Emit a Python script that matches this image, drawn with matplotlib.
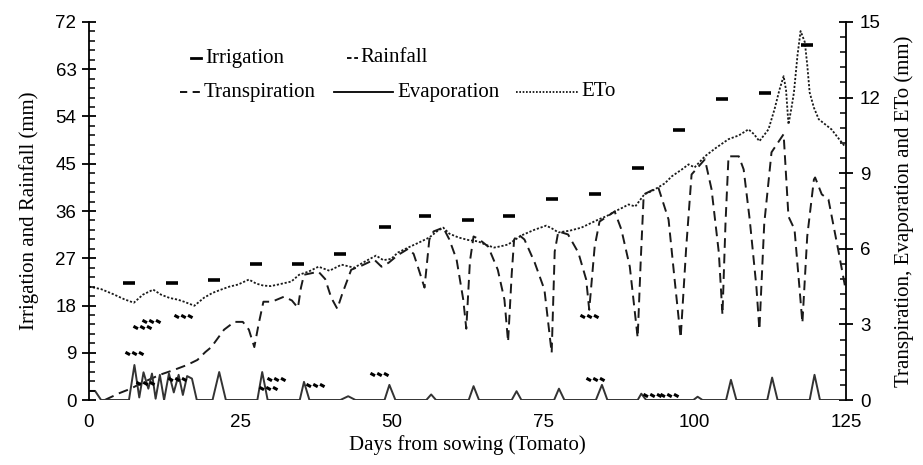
import matplotlib
matplotlib.use("Agg")
import matplotlib.pyplot as plt
from matplotlib.path import Path
from matplotlib.ticker import MultipleLocator

# ---- data -------------------------------------------------------------
irr_day = [6.6, 13.7, 20.7, 27.6, 34.5, 41.4, 48.8, 55.4, 62.5, 69.4,
           76.5, 83.6, 90.7, 97.4, 104.6, 111.6, 118.5]
irr_mm = [22.2, 22.2, 22.9, 26.0, 26.0, 27.9, 33.0, 35.0, 34.2, 35.0,
          38.2, 39.2, 44.1, 51.4, 57.3, 58.4, 67.6]

rain_day = [7.5, 8.8, 10.3, 15.6, 9.3, 14.5, 29.6, 30.9, 37.4, 47.9,
            82.6, 83.6, 93.0, 95.7]
rain_mm = [9.0, 14.0, 15.0, 16.0, 3.2, 4.0, 2.3, 4.0, 2.9, 5.0,
           16.0, 4.0, 1.0, 1.0]

eto_day = [0, 2, 4, 5.8, 7.4, 8.9, 10.6, 11.9, 13.3, 14.7, 15.7, 17.4,
           19.0, 20.4, 21.8, 23.2, 24.6, 26.4, 27.6, 28.8, 30.0, 31.2,
           33.4, 34.7, 36.3, 37.9, 39.7, 41.7, 43.8, 45.6, 47.4, 48.6,
           49.9, 51.0, 52.7, 54.5, 56.2, 57.5, 58.5, 59.5, 61.0, 62.6,
           64.3, 65.6, 66.9, 68.0, 69.2, 70.3, 71.4, 73.5, 75.5, 76.5,
           77.5, 79.4, 81.3, 82.7, 84.1, 85.5, 86.8, 88.0, 89.1, 90.2,
           91.7, 93.0, 94.0, 95.1, 96.2, 97.9, 99.0, 100.0, 101.7, 103.5,
           105.6, 107.3, 108.9, 109.8, 110.7, 112.2, 113.2, 114.0, 114.7,
           115.1, 115.5, 116.0, 116.4, 117.0, 117.5, 118.2, 118.6, 119.0,
           119.7, 120.5, 121.5, 122.6, 123.7, 124.8]
eto_mm = [4.5, 4.4, 4.2, 4.0, 3.86, 4.18, 4.38, 4.18, 4.05, 3.98, 3.9, 3.74,
          4.06, 4.25, 4.38, 4.5, 4.58, 4.78, 4.62, 4.54, 4.52, 4.58,
          4.7, 4.97, 5.1, 5.29, 5.13, 5.37, 5.25, 5.5, 5.73, 5.55,
          5.6, 5.85, 6.05, 6.25, 6.45, 6.7, 6.84, 6.6, 6.45, 6.35,
          6.29, 6.15, 6.05, 6.1, 6.17, 6.35, 6.53, 6.75, 6.92, 6.8,
          6.65, 6.72, 6.84, 7.0, 7.16, 7.3, 7.48, 7.62, 7.76, 7.68,
          8.16, 8.3, 8.44, 8.6, 8.87, 9.15, 9.35, 9.23, 9.67, 10.0,
          10.35, 10.5, 10.74, 10.55, 10.27, 10.74, 11.54, 12.3, 12.85,
          12.3, 10.94, 11.6, 12.2, 13.7, 14.64, 14.2, 13.3, 12.2,
          11.6, 11.14, 10.95, 10.74, 10.4, 10.07]

tr_day = [2.6, 5.1, 6.8, 9.1, 11.7, 14.0, 16.2, 17.9, 19.2, 20.2, 22.3,
          24.0, 25.4, 26.4, 27.3, 28.0, 28.8, 30.2, 32.2, 33.5, 34.5,
          35.0, 35.5, 37.9, 39.0, 40.0, 41.0, 41.8, 43.3, 45.0, 47.1,
          48.3, 49.5, 51.0, 52.7, 53.6, 54.3, 55.4, 56.2, 56.9, 58.5,
          59.5, 60.7, 61.8, 62.3, 62.9, 63.5, 64.3, 65.9, 67.5, 68.6,
          69.2, 69.8, 70.2, 70.9, 71.9, 73.6, 75.2, 76.4, 76.9, 77.5,
          79.1, 80.8, 82.1, 82.6, 83.5, 84.3, 86.8, 87.9, 89.3, 90.6,
          91.1, 91.6, 94.0, 95.7, 96.7, 97.7, 98.6, 99.5, 101.7, 102.8,
          104.0, 104.6, 105.1, 105.6, 107.3, 108.1, 109.1, 110.2, 110.7,
          111.5, 112.7, 114.7, 115.5, 116.5, 117.3, 117.8, 118.6, 119.7,
          119.9, 121.0, 122.1, 123.8, 125.0]
tr_mm = [0.0, 0.28, 0.44, 0.72, 1.0, 1.19, 1.39, 1.59, 1.9, 2.1, 2.79,
         3.1, 3.1, 2.79, 2.1, 3.0, 3.9, 3.9, 4.1, 3.95, 3.66,
         4.46, 4.97, 5.09, 4.8, 4.06, 3.62, 4.2, 5.17, 5.33, 5.57,
         5.29, 5.45, 5.75, 6.0, 5.8, 5.29, 4.46, 6.37, 6.69, 6.84,
         6.37, 5.57, 3.98, 2.83, 5.5, 6.49, 6.4, 6.09, 5.17, 3.98,
         2.31, 5.0, 6.37, 6.57, 6.37, 5.45, 4.38, 1.87, 5.89, 6.69,
         6.57, 5.85, 4.78, 3.58, 6.09, 7.08, 7.48, 6.77, 5.29, 2.47,
         5.5, 8.16, 8.44, 7.16, 4.78, 2.47, 6.0, 8.95, 9.55, 8.36,
         5.85, 3.38, 7.0, 9.67, 9.67, 9.15, 7.16, 4.5, 2.79,
         7.0, 9.83, 10.55, 7.28, 6.77, 4.5, 3.06, 6.5, 8.75,
         8.83, 8.16, 7.96, 5.85, 4.3]

ev_day = [0, 1.0, 2.0, 6.6, 7.5, 8.3, 9.0, 9.8, 10.4, 11.0, 11.7, 12.4,
          13.2, 14.0, 14.8, 15.5, 16.2, 17.0, 17.8,
          20.4, 21.5, 22.6, 27.8, 28.6, 29.5, 34.8, 35.5, 36.4,
          41.5, 42.8, 44.0, 48.8, 49.6, 50.6, 55.7, 56.5, 57.3,
          62.7, 63.5, 64.4, 69.8, 70.6, 71.4, 76.8, 77.6, 78.5,
          83.7, 84.7, 85.6, 90.6, 91.2, 92.0, 99.8, 100.5, 101.3,
          105.2, 106.0, 106.9, 112.0, 112.8, 113.7, 119.0, 119.8, 120.7,
          125.0]
ev_mm = [0.36, 0.36, 0.0, 0.0, 1.39, 0.1, 1.1, 0.45, 1.05, 0.05, 1.0, 0.0,
         1.05, 0.3, 1.0, 0.2, 0.95, 0.85, 0.0,
         0.0, 1.11, 0.0, 0.0, 1.11, 0.0, 0.0, 0.72, 0.0,
         0.0, 0.15, 0.0, 0.0, 0.6, 0.0, 0.0, 0.22, 0.0,
         0.0, 0.55, 0.0, 0.0, 0.35, 0.0, 0.0, 0.45, 0.0,
         0.0, 0.6, 0.0, 0.0, 0.25, 0.0, 0.0, 0.13, 0.0,
         0.0, 0.8, 0.0, 0.0, 0.89, 0.0, 0.0, 1.0, 0.0,
         0.0]

x_ticks = [0, 25, 50, 75, 100, 125]
left_ticks = [0, 9, 18, 27, 36, 45, 54, 63, 72]
right_ticks = [0, 3, 6, 9, 12, 15]

# ---- styling ----------------------------------------------------------
SERIF = ["Liberation Serif", "DejaVu Serif"]
SANS = ["Liberation Sans", "DejaVu Sans"]
INK = "#1a1a1a"

# rainfall glyph: three short slanted strokes
_verts, _codes = [], []
for i in (-1, 0, 1):
    cx = i * 0.66
    _verts += [(cx - 0.22, 0.12), (cx + 0.22, -0.12)]
    _codes += [Path.MOVETO, Path.LINETO]
rain_marker = Path(_verts, _codes)

fig = plt.figure(figsize=(9.23, 4.65), dpi=100)
ax = fig.add_axes([89 / 923, 1 - 400 / 465, 757 / 923, 378 / 465])
ax2 = ax.twinx()

ax.set_xlim(0, 125)
ax.set_ylim(0, 72)
ax2.set_ylim(0, 15)

# right-axis series
ax2.plot(eto_day, eto_mm, color=INK, lw=1.3, ls=(0, (1.2, 1.0)))
ax2.plot(tr_day, tr_mm, color=INK, lw=1.4, ls=(0, (5, 3)))
ax2.plot(ev_day, ev_mm, color="#333333", lw=1.4, ls="-")

# left-axis series
ax.plot(irr_day, irr_mm, ls="none", marker="_", ms=9, mew=2.6, color="black")
ax.plot(rain_day, rain_mm, ls="none", marker=rain_marker, ms=13, mew=2.2,
        color="black")
ax.set_zorder(ax2.get_zorder() + 1)
ax.patch.set_visible(False)

for a in (ax, ax2):
    a.spines["top"].set_visible(False)
    a.spines["bottom"].set_visible(False)
ax.spines["right"].set_visible(False)
ax2.spines["left"].set_visible(False)
ax.spines["left"].set_linewidth(1.3)
ax2.spines["right"].set_linewidth(1.3)

ax.set_xticks(x_ticks)
ax.tick_params(axis="x", length=0, pad=10, labelsize=13.5)
ax.set_yticks(left_ticks)
ax.yaxis.set_minor_locator(MultipleLocator(1.8))
ax.tick_params(axis="y", which="major", direction="inout", length=10,
               width=1.3, labelsize=13.5, pad=4)
ax.tick_params(axis="y", which="minor", direction="in", length=4, width=1.1)
ax2.set_yticks(right_ticks)
ax2.yaxis.set_minor_locator(MultipleLocator(0.6))
ax2.tick_params(axis="y", which="major", direction="inout", length=10,
                width=1.3, labelsize=13.5, pad=5)
ax2.tick_params(axis="y", which="minor", direction="in", length=4, width=1.1)
for lab in ax.get_xticklabels() + ax.get_yticklabels() + ax2.get_yticklabels():
    lab.set_family(SANS)

ax.set_xlabel("Days from sowing (Tomato)", family=SERIF, fontsize=15, labelpad=3)
ax.set_ylabel("Irrigation and Rainfall (mm)", family=SERIF, fontsize=15, labelpad=12)
ax2.set_ylabel("Transpiration, Evaporation and ETo (mm)", family=SERIF,
               fontsize=15, labelpad=10)

# ---- legend (drawn in axes fraction) ------------------------------------
def fx(px):
    return (px - 89) / 757

def fy(py):
    return (400 - py) / 378

T = ax.transAxes
lk = dict(transform=T, clip_on=False, color="black")
ax.plot([fx(191), fx(201)], [fy(58)] * 2, lw=2.0, **lk)
ax.text(fx(205), fy(58), "Irrigation", family=SERIF, fontsize=15,
        va="center", ha="left", transform=T)
ax.plot([fx(347), fx(358)], [fy(58)] * 2, lw=1.3, ls=(0, (2.5, 1.5)), **lk)
ax.text(fx(360), fy(58), "Rainfall", family=SERIF, fontsize=15,
        va="center", ha="left", transform=T)

ax.plot([fx(180), fx(200)], [fy(92)] * 2, lw=1.3, ls=(0, (4, 3)), **lk)
ax.text(fx(204), fy(92), "Transpiration", family=SERIF, fontsize=15,
        va="center", ha="left", transform=T)
ax.plot([fx(334), fx(393)], [fy(92)] * 2, lw=1.3, **lk)
ax.text(fx(397), fy(92), "Evaporation", family=SERIF, fontsize=15,
        va="center", ha="left", transform=T)
ax.plot([fx(516), fx(578)], [fy(92)] * 2, lw=1.2, ls=(0, (1, 1)), **lk)
ax.text(fx(581), fy(92), "ETo", family=SERIF, fontsize=15,
        va="center", ha="left", transform=T)

fig.savefig("out.png", dpi=100)
